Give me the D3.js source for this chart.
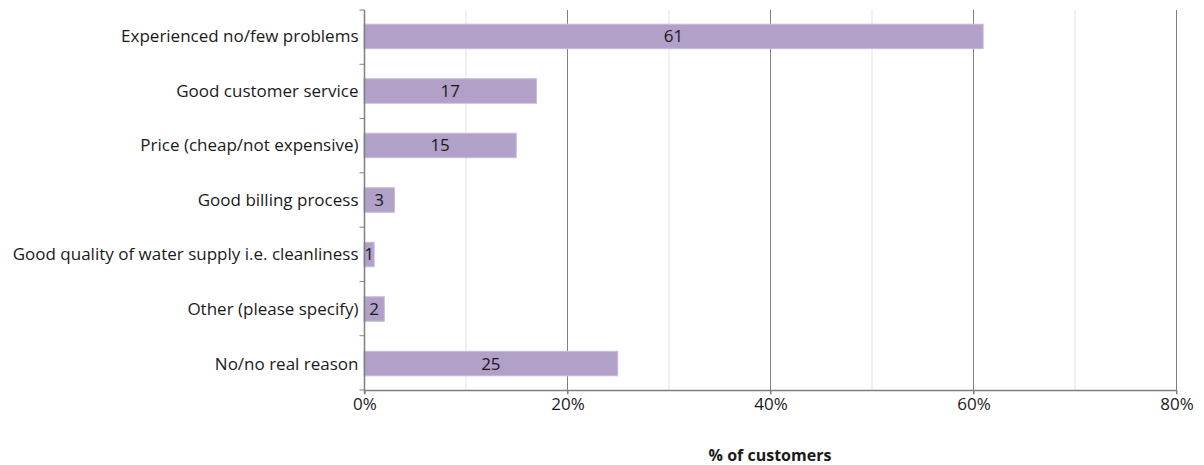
<!DOCTYPE html>
<html>
<head>
<meta charset="utf-8">
<script src="https://cdn.jsdelivr.net/npm/d3@7"></script>
<style>
  html, body { margin: 0; padding: 0; background: #fff; }
  svg text { font-family: "Open Sans", "Noto Sans", sans-serif; fill: #1a1a1a; }
</style>
</head>
<body>
<svg id="chart" width="1204" height="465"></svg>
<script>
// Reasons customers gave, with share of customers (%)
const categories = [
  "Experienced no/few problems",
  "Good customer service",
  "Price (cheap/not expensive)",
  "Good billing process",
  "Good quality of water supply i.e. cleanliness",
  "Other (please specify)",
  "No/no real reason"
];
const values = [61, 17, 15, 3, 1, 2, 25];
const majorTicks = [0, 20, 40, 60, 80];
const minorTicks = [10, 30, 50, 70];
const axisTitle = "% of customers";

const svg = d3.select("#chart");
const plotLeft = 364, plotRight = 1176, plotTop = 10, plotBottom = 390;
const fontSize = 17;

const x = d3.scaleLinear().domain([0, 80]).range([plotLeft, plotRight]);
const y = d3.scaleBand().domain(categories).range([plotTop, plotBottom]).paddingInner(0.55).paddingOuter(0.26);

// Light gridlines between the labelled ticks
svg.append("g").selectAll("line").data(minorTicks).join("line")
  .attr("x1", d => x(d) + 0.5).attr("x2", d => x(d) + 0.5)
  .attr("y1", plotTop).attr("y2", plotBottom)
  .attr("stroke", "#e3e3e3").attr("stroke-width", 1);

// Main gridlines
svg.append("g").selectAll("line").data(majorTicks.slice(1)).join("line")
  .attr("x1", d => x(d) + 0.5).attr("x2", d => x(d) + 0.5)
  .attr("y1", plotTop).attr("y2", plotBottom + 4)
  .attr("stroke", "#7f7f7f").attr("stroke-width", 1);

// Bars
svg.append("g").selectAll("rect").data(values).join("rect")
  .attr("x", x(0))
  .attr("y", (d, i) => y(categories[i]))
  .attr("width", d => x(d) - x(0))
  .attr("height", y.bandwidth())
  .attr("fill", "#b1a0c7")
  .attr("stroke", "#c9bdd9").attr("stroke-width", 1);

// Value labels centred in bars
svg.append("g").selectAll("text").data(values).join("text")
  .attr("x", d => (x(0) + x(d)) / 2)
  .attr("y", (d, i) => y(categories[i]) + y.bandwidth() / 2)
  .attr("dy", "0.35em")
  .attr("text-anchor", "middle")
  .attr("font-size", fontSize)
  .text(d => d);

// X axis
const xAxis = d3.axisBottom(x).tickValues(majorTicks).tickFormat(d => d + "%").tickSize(4).tickPadding(3);
const gx = svg.append("g").attr("transform", `translate(0.5,${plotBottom + 0.5})`).call(xAxis);
gx.select(".domain").attr("stroke", "#7f7f7f").attr("stroke-width", 1.5).attr("d", `M${plotLeft},0H${plotRight}`);
gx.selectAll(".tick line").attr("stroke", "#7f7f7f");
gx.selectAll(".tick text").attr("font-size", fontSize).attr("fill", "#1a1a1a")
  .attr("font-family", '"Open Sans", "Noto Sans", sans-serif');

// Y axis with ticks on band boundaries
const gy = svg.append("g").attr("transform", `translate(${plotLeft + 0.5},0)`);
gy.append("line").attr("x1", 0).attr("x2", 0).attr("y1", plotTop).attr("y2", plotBottom + 4)
  .attr("stroke", "#7f7f7f").attr("stroke-width", 1.5);
const step = (plotBottom - plotTop) / categories.length;
gy.selectAll("line.tick").data(d3.range(categories.length + 1)).join("line")
  .attr("class", "tick")
  .attr("x1", -5).attr("x2", 0)
  .attr("y1", i => plotTop + i * step).attr("y2", i => plotTop + i * step)
  .attr("stroke", "#7f7f7f");
gy.selectAll("text").data(categories).join("text")
  .attr("x", -6)
  .attr("y", d => y(d) + y.bandwidth() / 2)
  .attr("dy", "0.35em")
  .attr("text-anchor", "end")
  .attr("font-size", fontSize)
  .text(d => d);

// Axis title
svg.append("text")
  .attr("x", (plotLeft + plotRight) / 2)
  .attr("y", 455)
  .attr("dy", "0.35em")
  .attr("text-anchor", "middle")
  .attr("font-size", 16)
  .attr("font-weight", "bold")
  .text(axisTitle);
</script>
</body>
</html>
